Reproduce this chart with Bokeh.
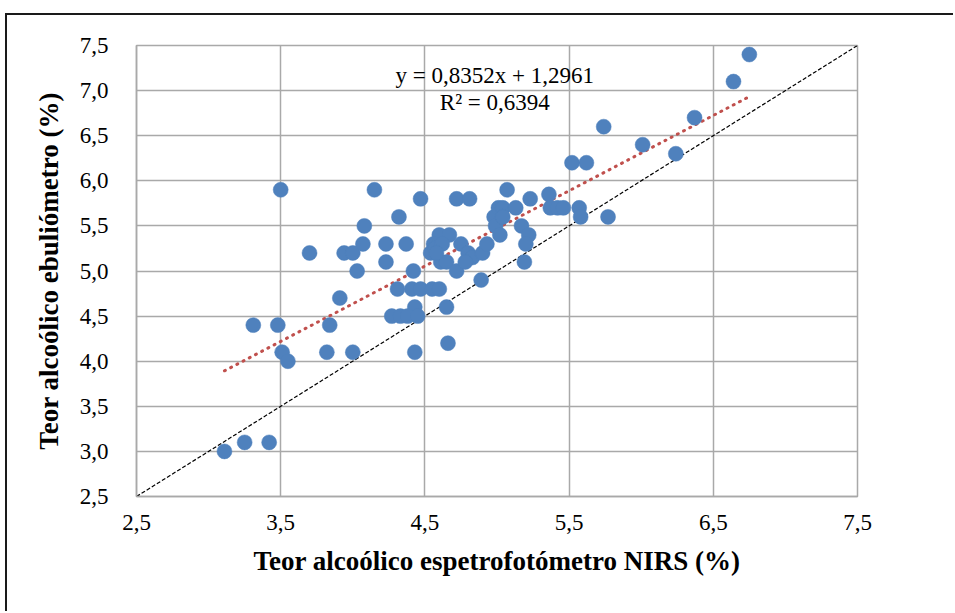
from bokeh.plotting import figure
from bokeh.models import Label, FixedTicker, Range1d
from bokeh.embed import file_html
from bokeh.resources import INLINE
import numpy as np

# ---- data ----
x_nirs = [3.11, 3.25, 3.42, 3.31, 3.48, 3.51, 3.55, 3.50, 3.70, 3.82,
          3.84, 3.91, 3.94, 4.00, 4.00, 4.03, 4.07, 4.08, 4.15, 4.23,
          4.23, 4.32, 4.37, 4.42, 4.47, 4.31, 4.41, 4.47, 4.55, 4.60,
          4.43, 4.65, 4.27, 4.33, 4.38, 4.45, 4.43, 4.66, 4.89, 4.72,
          4.81, 5.07, 4.60, 4.67, 4.56, 4.54, 4.61, 4.65, 4.72, 4.75,
          4.80, 4.83, 4.78, 4.90, 4.93, 4.98, 5.01, 5.04, 5.13, 4.99,
          5.02, 5.17, 5.22, 5.20, 5.19, 5.23, 5.36, 5.37, 5.42, 5.46,
          5.57, 5.58, 5.77, 5.52, 5.62, 5.74, 6.01, 6.24, 6.37, 6.64,
          6.75, 4.57, 4.62, 5.04, 4.58]
y_ebul = [3.0, 3.1, 3.1, 4.4, 4.4, 4.1, 4.0, 5.9, 5.2, 4.1,
          4.4, 4.7, 5.2, 5.2, 4.1, 5.0, 5.3, 5.5, 5.9, 5.3,
          5.1, 5.6, 5.3, 5.0, 5.8, 4.8, 4.8, 4.8, 4.8, 4.8,
          4.6, 4.6, 4.5, 4.5, 4.5, 4.5, 4.1, 4.2, 4.9, 5.8,
          5.8, 5.9, 5.4, 5.4, 5.3, 5.2, 5.1, 5.1, 5.0, 5.3,
          5.2, 5.15, 5.1, 5.2, 5.3, 5.6, 5.7, 5.7, 5.7, 5.5,
          5.4, 5.5, 5.4, 5.3, 5.1, 5.8, 5.85, 5.7, 5.7, 5.7,
          5.7, 5.6, 5.6, 6.2, 6.2, 6.6, 6.4, 6.3, 6.7, 7.1,
          7.4, 5.25, 5.3, 5.6, 5.2]

trend_slope = 0.8352
trend_intercept = 1.2961
equation_text = "y = 0,8352x + 1,2961"
r2_text = "R\u00b2 = 0,6394"

x_ticks = [2.5, 3.5, 4.5, 5.5, 6.5, 7.5]
x_tick_labels = ["2,5", "3,5", "4,5", "5,5", "6,5", "7,5"]
y_ticks = [2.5, 3.0, 3.5, 4.0, 4.5, 5.0, 5.5, 6.0, 6.5, 7.0, 7.5]
y_tick_labels = ["2,5", "3,0", "3,5", "4,0", "4,5", "5,0", "5,5", "6,0", "6,5", "7,0", "7,5"]

x_title = "Teor alcoólico espetrofotómetro NIRS (%)"
y_title = "Teor alcoólico ebuliómetro (%)"

FONT = "Liberation Serif"
GRID = "#A9A9A9"

# canvas placed at (7, 15) inside a black chart border
p = figure(width=948, height=598, output_backend="svg", toolbar_location=None,
           x_range=Range1d(2.5, 7.5), y_range=Range1d(2.5, 7.5),
           min_border_left=129, min_border_right=98, min_border_top=30,
           min_border_bottom=117)
p.styles = {"margin-left": "5px", "margin-top": "13px",
            "border-left": "2px solid #1a1a1a", "border-top": "2px solid #1a1a1a"}
p.background_fill_color = "white"
p.border_fill_color = "white"
p.outline_line_color = GRID
p.outline_line_width = 1.5

p.xaxis.ticker = FixedTicker(ticks=x_ticks)
p.yaxis.ticker = FixedTicker(ticks=y_ticks)
p.xaxis.major_label_overrides = dict(zip(x_ticks, x_tick_labels))
p.yaxis.major_label_overrides = dict(zip(y_ticks, y_tick_labels))
p.xgrid.grid_line_color = GRID
p.ygrid.grid_line_color = GRID
p.xgrid.grid_line_width = 1.5
p.ygrid.grid_line_width = 1.5

for ax in (p.xaxis[0], p.yaxis[0]):
    ax.axis_line_color = GRID
    ax.axis_line_width = 1.5
    ax.major_tick_line_color = None
    ax.minor_tick_line_color = None
    ax.major_label_text_font = FONT
    ax.major_label_text_font_size = "23px"
    ax.major_label_text_color = "black"
    ax.axis_label_text_font = FONT
    ax.axis_label_text_font_style = "bold"
    ax.axis_label_text_font_size = "27px"
    ax.axis_label_text_color = "black"

p.xaxis.axis_label = x_title
p.yaxis.axis_label = y_title
p.xaxis.major_label_standoff = 12
p.xaxis.axis_label_standoff = 13
p.yaxis.major_label_standoff = 22
p.yaxis.axis_label_standoff = 13

# 1:1 reference line
ref = [x_ticks[0], x_ticks[-1]]
p.line(ref, ref, line_color="black", line_width=1.2, line_dash="4 2")

# trend line from min to max of data
xt = np.array([min(x_nirs), max(x_nirs)])
p.line(xt, trend_slope * xt + trend_intercept, line_color="#C0504D",
       line_width=3, line_dash="1 6", line_cap="round")

# points
p.scatter(x_nirs, y_ebul, marker="circle", size=15, fill_color="#4F81BD",
          line_color="#4F81BD", line_width=0.5)

p.add_layout(Label(x=4.985, y=7.17, text=equation_text, text_align="center",
                   text_baseline="middle", text_font=FONT, text_font_size="23px",
                   text_color="black"))
p.add_layout(Label(x=4.985, y=6.87, text=r2_text, text_align="center",
                   text_baseline="middle", text_font=FONT, text_font_size="23px",
                   text_color="black"))

open("out.html", "w").write(file_html(p, INLINE))
